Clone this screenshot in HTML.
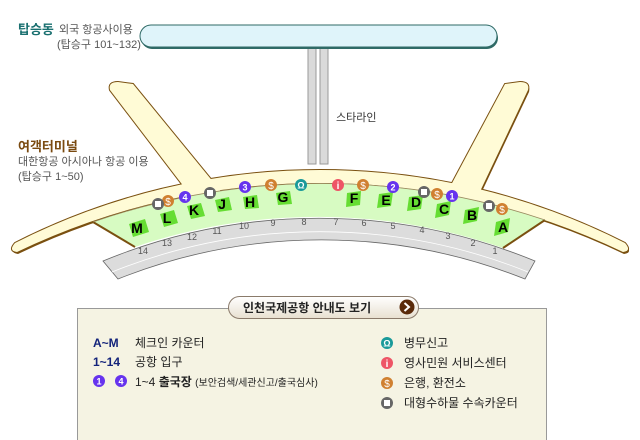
<!DOCTYPE html>
<html><head><meta charset="utf-8"><style>
html,body{margin:0;padding:0;background:#fff;}
svg{display:block;font-family:"Liberation Sans","Noto Sans CJK KR",sans-serif;}
</style></head><body>
<svg width="640" height="440" viewBox="0 0 640 440" xmlns="http://www.w3.org/2000/svg">
<defs>
<path id="w1" d="M110,90 Q108,82 118,82 L133,84 L228,200 L194,200 Z"/>
<path id="w2" d="M528,90 Q530,82 520,82 L505,84 L443,200 L476,200 Z"/>
<path id="cr" d="M15,243 A673.7,673.7 0 0 1 625,243 Q632,251 623,252 A700,700 0 0 0 17,252 Q8,251 15,243 Z"/>
</defs>
<!-- concourse -->
<rect x="308" y="46" width="8" height="118" fill="#dadada" stroke="#999" stroke-width="1"/>
<rect x="320" y="46" width="8" height="118" fill="#dadada" stroke="#999" stroke-width="1"/>
<rect x="141" y="27" width="357" height="22" rx="11" fill="#2f6a66"/>
<rect x="140" y="25" width="357" height="22" rx="11" fill="#dff4fa" stroke="#2f6a66" stroke-width="1"/>
<!-- shadow -->
<g fill="#7a5010" transform="translate(1,2)">
<use href="#w1"/><use href="#w2"/><use href="#cr"/>
</g>
<!-- outline pass -->
<g fill="#fffbd6" stroke="#7a5010" stroke-width="2">
<use href="#w1"/><use href="#w2"/><use href="#cr"/>
</g>
<!-- fill pass hides internal lines -->
<g fill="#fffbd6">
<use href="#w1"/><use href="#w2"/><use href="#cr"/>
</g>
<!-- green area -->
<path d="M93,222 A700,700 0 0 1 545,220 L503,248 A567.5,567.5 0 0 0 135,247 Z" fill="#d7fbc2"/>
<path d="M93,222 L135,247 M545,220 L503,248" stroke="#7a5010" stroke-width="2"/>
<path d="M93,222 A700,700 0 0 1 545,220" fill="none" stroke="#9a8a60" stroke-width="0.8"/>
<!-- gray band -->
<path d="M103,261 A567.5,567.5 0 0 1 535,261 L525,279 A549,549 0 0 0 118,279 Z" fill="#dcdcdc" stroke="#666" stroke-width="0.8"/>
<path d="M112,272 A557,557 0 0 1 528,272" fill="none" stroke="#fff" stroke-width="0.8"/>
<g font-size="9" fill="#555" text-anchor="middle">
<text x="143" y="254">14</text><text x="167" y="246">13</text><text x="192" y="240">12</text><text x="217" y="234">11</text><text x="244" y="229">10</text><text x="273" y="226">9</text><text x="304" y="225">8</text><text x="336" y="225">7</text><text x="364" y="226">6</text><text x="393" y="229">5</text><text x="422" y="233">4</text><text x="448" y="239">3</text><text x="473" y="246">2</text><text x="495" y="254">1</text>
</g>
<!-- counters -->
<g fill="#66dd33">
<polygon points="129,224 145,219 149,232 133,237"/><polygon points="160,214 174,210 178,223 164,227"/><polygon points="187,206 201,203 205,216 191,219"/><polygon points="215,200 229,197 232,210 218,212"/><polygon points="243,197 257,195 259,208 245,209"/><polygon points="276,193 290,191 292,204 278,205"/><polygon points="347,193 361,191 360,205 346,207"/><polygon points="379,194 393,192 391,206 377,208"/><polygon points="409,197 423,195 421,209 407,211"/><polygon points="437,204 451,201 449,215 435,218"/><polygon points="465,210 479,207 477,221 463,224"/><polygon points="496,222 510,218 508,232 494,236"/>
</g>
<g font-size="14" font-weight="bold" fill="#000" text-anchor="middle">
<text x="137" y="233">M</text><text x="167" y="223">L</text><text x="194" y="215">K</text><text x="222" y="209">J</text><text x="250" y="207">H</text><text x="283" y="202">G</text><text x="354" y="203">F</text><text x="386" y="205">E</text><text x="416" y="207">D</text><text x="444" y="214">C</text><text x="472" y="220">B</text><text x="503" y="232">A</text>
</g>
<!-- icons -->
<defs>
<g id="sq"><circle r="6" fill="#666"/><rect x="-3" y="-3" width="6" height="6" fill="#fff"/></g>
<g id="dl"><circle r="6" fill="#d08030"/><text y="4" font-size="10" fill="#fff" text-anchor="middle">$</text></g>
<g id="om"><circle r="6" fill="#1a9a9a"/><text y="3.5" font-size="9" font-weight="bold" fill="#fff" text-anchor="middle">Ω</text></g>
<g id="in"><circle r="6" fill="#ee5566"/><text y="4" font-size="10" font-weight="bold" fill="#fff" text-anchor="middle">i</text></g>
</defs>
<use href="#dl" x="168" y="201"/><use href="#sq" x="158" y="204"/><use href="#sq" x="210" y="193"/>
<use href="#dl" x="271" y="185"/><use href="#dl" x="363" y="185"/><use href="#sq" x="424" y="192"/><use href="#dl" x="437" y="194"/>
<use href="#sq" x="489" y="206"/><use href="#dl" x="502" y="209"/><use href="#om" x="301" y="185"/><use href="#in" x="338" y="185"/>
<g font-size="9" font-weight="bold" fill="#fff" text-anchor="middle">
<circle cx="185" cy="197" r="6" fill="#6633ee"/><text x="185" y="200.5">4</text>
<circle cx="245" cy="187" r="6" fill="#6633ee"/><text x="245" y="190.5">3</text>
<circle cx="393" cy="187" r="6" fill="#6633ee"/><text x="393" y="190.5">2</text>
<circle cx="452" cy="196" r="6" fill="#6633ee"/><text x="452" y="199.5">1</text>
</g>
<!-- labels -->
<text x="18" y="34" font-size="13" font-weight="bold" fill="#1a7070">탑승동</text>
<text x="59" y="33" font-size="11" fill="#555">외국 항공사이용</text>
<text x="57" y="48" font-size="11" fill="#555">(탑승구 101~132)</text>
<text x="336" y="121" font-size="11" fill="#333">스타라인</text>
<text x="18" y="151" font-size="13" font-weight="bold" fill="#7a4a10">여객터미널</text>
<text x="18" y="165" font-size="11" fill="#555">대한항공 아시아나 항공 이용</text>
<text x="18" y="180" font-size="11" fill="#555">(탑승구 1~50)</text>
<!-- legend -->
<rect x="77.5" y="308.5" width="469" height="140" fill="#f5f3e3" stroke="#999"/>
<defs><linearGradient id="bg" x1="0" y1="0" x2="0" y2="1"><stop offset="0" stop-color="#fff"/><stop offset="1" stop-color="#e8e0d0"/></linearGradient></defs>
<rect x="228.5" y="296.5" width="190" height="22" rx="11" fill="url(#bg)" stroke="#8a7a6a"/>
<text x="243" y="312" font-size="12" font-weight="bold" fill="#222">인천국제공항 안내도 보기</text>
<circle cx="407" cy="307" r="7.5" fill="#5a2a0a"/>
<path d="M404.5,303 L409,307 L404.5,311" fill="none" stroke="#fff" stroke-width="2"/>
<g font-size="12" fill="#222">
<text x="93" y="347" font-weight="bold" fill="#13237a">A~M</text><text x="135" y="347">체크인 카운터</text>
<text x="93" y="366" font-weight="bold" fill="#13237a">1~14</text><text x="135" y="366">공항 입구</text>
<text x="135" y="386">1~4 <tspan font-weight="bold">출국장</tspan> <tspan font-size="10">(보안검색/세관신고/출국심사)</tspan></text>
<text x="404" y="347">병무신고</text>
<text x="404" y="367">영사민원 서비스센터</text>
<text x="404" y="387">은행, 환전소</text>
<text x="404" y="407">대형수하물 수속카운터</text>
</g>
<g font-size="9" font-weight="bold" fill="#fff" text-anchor="middle">
<circle cx="99" cy="381" r="6" fill="#6633ee"/><text x="99" y="384.5">1</text>
<circle cx="121" cy="381" r="6" fill="#6633ee"/><text x="121" y="384.5">4</text>
</g>
<use href="#om" x="387" y="343"/><use href="#in" x="387" y="363"/><use href="#dl" x="387" y="383"/><use href="#sq" x="387" y="403"/>
</svg>
</body></html>
